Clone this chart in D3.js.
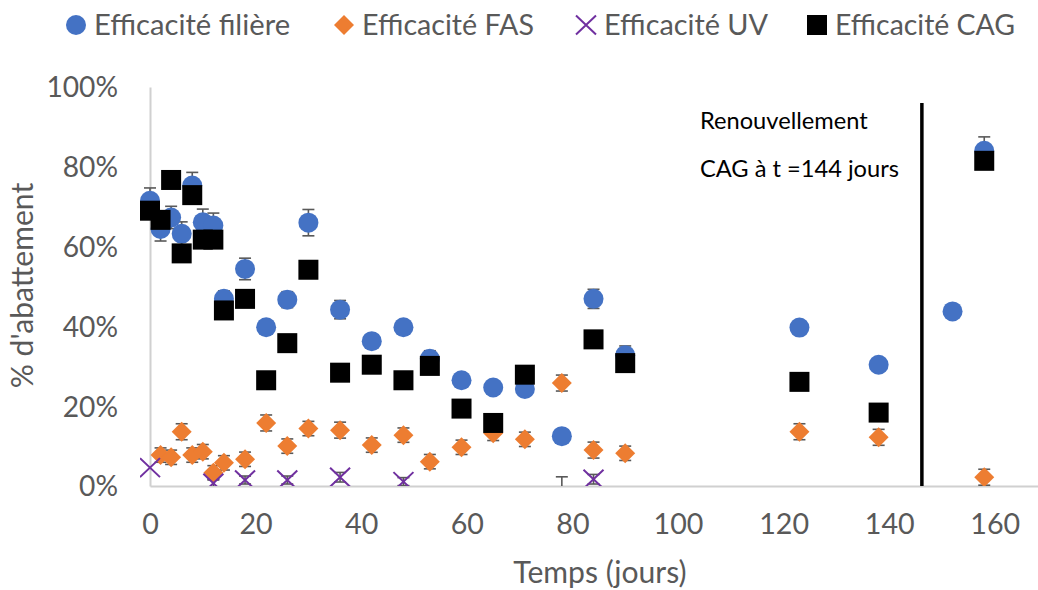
<!DOCTYPE html>
<html><head><meta charset="utf-8">
<script src="https://cdn.jsdelivr.net/npm/d3@7"></script>
<style>body{margin:0;background:#fff} svg{display:block}</style>
</head><body><svg id="chart" width="1038" height="590"></svg>
<script>
// ---------- DATA ----------
const seriesNames = ["Efficacité filière", "Efficacité FAS", "Efficacité UV", "Efficacité CAG"];

const filiereDays   = [0,2,4,6,8,10,12,14,18,22,26,30,36,42,48,53,59,65,71,78,84,90,123,138,152,158];
const filiereValues = [71.5,64.4,67.3,63.2,75.3,66.1,65.3,46.9,54.4,39.8,46.7,66,44.2,36.3,39.8,31.9,26.5,24.7,24.3,12.5,46.9,32.8,39.7,30.4,43.75,84];
const filiereErrors = [3.2,3,2.8,3,3.3,3.3,3.1,2,2.7,1.5,2,3.3,2.3,1.5,1.5,2,1,1,1,1,2.4,2.3,1.5,1.5,1.5,3.5];

const fasDays   = [2,4,6,8,10,12,14,18,22,26,30,36,42,48,53,59,65,71,78,84,90,123,138,158];
const fasValues = [7.75,7.2,13.6,7.75,8.6,3.3,5.8,6.7,15.8,10,14.4,14,10.25,12.75,6.1,9.7,13.2,11.7,25.8,9,8.2,13.6,12.2,2.2];
const fasErrors = [1.8,1.8,2,1.8,1.8,1.8,1.8,1.8,2,1.8,1.8,2,1.8,1.8,1.8,1.8,1.8,1.8,2,2,1.8,2,2,2];

const uvDays   = [0,12,18,26,36,48,78,84];
const uvValues = [4.6,0.7,1.5,1.5,2.2,1.1,-1,1.7];
const uvErrors = [0,1,1,1,1.2,1,3.3,1.2];

const cagDays   = [0,2,4,6,8,10,12,14,18,22,26,30,36,42,48,53,59,65,71,84,90,123,138,158];
const cagValues = [69,66.7,76.7,58.3,72.9,61.75,61.75,44,46.9,26.5,35.8,54.2,28.4,30.4,26.5,30.1,19.4,15.8,27.9,36.75,30.8,26.1,18.4,81.5];

const xTicks = [0,20,40,60,80,100,120,140,160];
const yTicks = [0,20,40,60,80,100];
const renewalDay = 146;
const annotationLines = ["Renouvellement", "CAG à t =144 jours"];
const xTitle = "Temps (jours)";
const yTitle = "% d'abattement";

// ---------- SETUP ----------
const svg = d3.select('#chart');
const FONT = 'Lato, "Noto Sans", sans-serif';
const GRAY = '#595959';
const COLORS = {filiere:'#4472C4', fas:'#ED7D31', uv:'#7030A0', cag:'#000000'};

function measure(txt, size){
  const t = svg.append('text').attr('font-family',FONT).attr('font-size',size).text(txt);
  const w = t.node().getComputedTextLength(); t.remove(); return w;
}
const k = 196 / measure(seriesNames[0], 30);  // calibrate to reference text width

const x = d3.scaleLinear().domain([0,180]).range([150, 150 + 5.28*180]);
const y = d3.scaleLinear().domain([0,100]).range([486, 87]);

const mk = (days, vals, errs) => days.map((d,i)=>({d, v:vals[i], e: errs ? errs[i] : 0}));
const filiere = mk(filiereDays, filiereValues, filiereErrors);
const fas = mk(fasDays, fasValues, fasErrors);
const uv = mk(uvDays, uvValues, uvErrors);
const cag = mk(cagDays, cagValues, null);

// ---------- AXES ----------
const xAxis = svg.append('g').attr('transform','translate(0,486)')
  .call(d3.axisBottom(x).tickValues(xTicks).tickSize(0).tickSizeOuter(0).tickFormat(d=>d));
xAxis.select('.domain').attr('stroke','#d0d0d0').attr('stroke-width',2);
xAxis.selectAll('text').attr('y',48).attr('dy',null).attr('fill',GRAY)
  .attr('font-family',FONT).attr('font-size',29.5*k);

const yAxis = svg.append('g').attr('transform','translate(150,0)')
  .call(d3.axisLeft(y).tickValues(yTicks).tickSize(0).tickSizeOuter(0).tickFormat(d=>d+'%'));
yAxis.select('.domain').attr('stroke','#d0d0d0').attr('stroke-width',2);
yAxis.selectAll('text').attr('x',-32).attr('dy','0.35em').attr('fill',GRAY)
  .attr('font-family',FONT).attr('font-size',29*k);

svg.append('text').attr('x',600).attr('y',583).attr('text-anchor','middle')
  .attr('font-family',FONT).attr('font-size',31*k).attr('fill',GRAY).text(xTitle);
svg.append('text').attr('transform','translate(33,285.5) rotate(-90)').attr('text-anchor','middle')
  .attr('font-family',FONT).attr('font-size',31*k).attr('fill',GRAY).text(yTitle);

// ---------- CLIP ----------
svg.append('clipPath').attr('id','plotclip').append('rect')
  .attr('x',140).attr('y',0).attr('width',1000).attr('height',486);

const plot = svg.append('g').attr('clip-path','url(#plotclip)');

// ---------- RENEWAL LINE & ANNOTATION ----------
plot.append('line').attr('x1',x(renewalDay)+1).attr('x2',x(renewalDay)+1)
  .attr('y1',103).attr('y2',y(0)).attr('stroke','#000').attr('stroke-width',3.5);
const annotSize = 26.5*k * 199 / measure(annotationLines[1], 26.5*k);
svg.selectAll('text.annot').data(annotationLines).join('text').attr('class','annot')
  .attr('x',700).attr('y',(d,i)=>129 + i*48)
  .attr('font-family',FONT).attr('font-size',annotSize).attr('fill','#000').text(d=>d);

// ---------- ERROR BARS ----------
function errorBars(data){
  const g = plot.append('g').attr('stroke',GRAY).attr('stroke-width',1.6);
  data.filter(p=>p.e>0).forEach(p=>{
    const cx = x(p.d), y1 = y(p.v - p.e), y2 = y(p.v + p.e);
    g.append('line').attr('x1',cx).attr('x2',cx).attr('y1',y1).attr('y2',y2);
    g.append('line').attr('x1',cx-6).attr('x2',cx+6).attr('y1',y1).attr('y2',y1);
    g.append('line').attr('x1',cx-6).attr('x2',cx+6).attr('y1',y2).attr('y2',y2);
  });
}
errorBars(filiere); errorBars(fas); errorBars(uv);

// ---------- MARKERS ----------
const diamondPath = 'M0,-10L10,0L0,10L-10,0Z';
function drawCircle(g, cx, cy){ g.append('circle').attr('cx',cx).attr('cy',cy).attr('r',10).attr('fill',COLORS.filiere); }
function drawDiamond(g, cx, cy){ g.append('path').attr('d',diamondPath).attr('transform',`translate(${cx},${cy})`).attr('fill',COLORS.fas); }
function drawX(g, cx, cy){
  g.append('path').attr('d','M-10,-9.5L10,9.5M-10,9.5L10,-9.5').attr('transform',`translate(${cx},${cy})`)
   .attr('stroke',COLORS.uv).attr('stroke-width',2).attr('fill','none');
}
function drawSquare(g, cx, cy){ g.append('rect').attr('x',cx-10).attr('y',cy-10).attr('width',20).attr('height',20).attr('fill',COLORS.cag); }

const visible = p => p.v >= 0 && p.v <= 100;
const gF = plot.append('g'); filiere.filter(visible).forEach(p=>drawCircle(gF, x(p.d), y(p.v)));
const gA = plot.append('g'); fas.filter(visible).forEach(p=>drawDiamond(gA, x(p.d), y(p.v)));
const gU = plot.append('g'); uv.filter(visible).forEach(p=>drawX(gU, x(p.d), y(p.v)));
const gC = plot.append('g'); cag.filter(visible).forEach(p=>drawSquare(gC, x(p.d), y(p.v)));

// ---------- LEGEND ----------
const drawers = [drawCircle, drawDiamond, drawX, drawSquare];
const legendMarkerX = [76, 344, 586, 817];
const legendTextW = [196, 172, 164, 180];
const lg = svg.append('g');
seriesNames.forEach((name,i)=>{
  drawers[i](lg, legendMarkerX[i], 25);
  const t = lg.append('text').attr('x',legendMarkerX[i]+18).attr('y',35).attr('font-family',FONT)
    .attr('font-size',30*k).attr('fill',GRAY).text(name);
  const w = t.node().getComputedTextLength();
  t.attr('font-size', 30*k*legendTextW[i]/w);
});
</script>
</body></html>
